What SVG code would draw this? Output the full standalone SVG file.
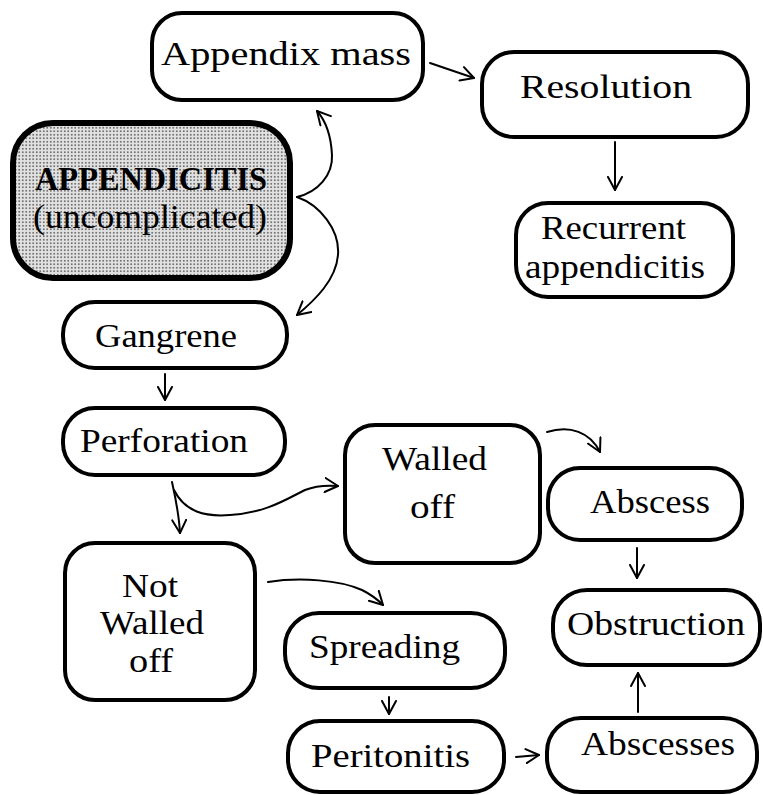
<svg xmlns="http://www.w3.org/2000/svg" width="763" height="795" viewBox="0 0 763 795">
<defs>
<style>
.box{fill:#fff;stroke:#000;stroke-width:4}
.main{stroke:#000;stroke-width:6}
.t{font-family:"Liberation Serif","Times New Roman",serif;font-size:34px;fill:#000}
.b{font-weight:bold}
.c{fill:none;stroke:#000;stroke-width:2;stroke-linecap:round;stroke-linejoin:round}
</style>
<pattern id="stip" width="3.5" height="3.5" patternUnits="userSpaceOnUse">
<rect width="3.5" height="3.5" fill="#e2e2e2"/>
<circle cx="1.75" cy="1.75" r="0.9" fill="#505050"/>
</pattern>
<marker id="ah" viewBox="0 0 16 16" refX="14" refY="8" markerWidth="16" markerHeight="16" markerUnits="userSpaceOnUse" orient="auto">
<path d="M1,1 L14,8 L1,15" fill="none" stroke="#000" stroke-width="2" stroke-linecap="round" stroke-linejoin="round"/>
</marker>
</defs>
<rect width="763" height="795" fill="#fff"/>

<g id="connectors">
<path class="c" marker-end="url(#ah)" d="M430,63 L474,78"/>
<path class="c" marker-end="url(#ah)" d="M615,142 L615,190"/>
<path class="c" marker-end="url(#ah)" d="M297,197 C318,192 333,175 332,155 C331,135 325,120 317,111"/>
<path class="c" marker-end="url(#ah)" d="M297,197 C320,205 340,230 338,255 C336,280 315,300 297,315"/>
<path class="c" marker-end="url(#ah)" d="M165,374 L165,400"/>
<path class="c" marker-end="url(#ah)" d="M172,482 C176,500 179,515 180,533"/>
<path class="c" marker-end="url(#ah)" d="M174,490 C185,512 205,517 230,515 C265,513 285,500 305,490 C315,486 325,485 338,486"/>
<path class="c" marker-end="url(#ah)" d="M547,432 C570,425 590,432 600,452"/>
<path class="c" marker-end="url(#ah)" d="M268,582 C300,577 340,580 362,590 C372,595 378,600 383,605"/>
<path class="c" marker-end="url(#ah)" d="M637,548 L637,578"/>
<path class="c" marker-end="url(#ah)" d="M389,697 L389,714"/>
<path class="c" marker-end="url(#ah)" d="M516,757 L539,755"/>
<path class="c" marker-end="url(#ah)" d="M638,712 L638,673"/>
</g>

<g id="appendix-mass">
<rect class="box" x="152" y="13" width="271" height="87" rx="30"/>
<text class="t" x="161" y="65" textLength="250" lengthAdjust="spacingAndGlyphs">Appendix mass</text>
</g>
<g id="resolution">
<rect class="box" x="482" y="52" width="266" height="85" rx="32"/>
<text class="t" x="520" y="98" textLength="172" lengthAdjust="spacingAndGlyphs">Resolution</text>
</g>
<g id="recurrent">
<rect class="box" x="516" y="203" width="217" height="94" rx="32"/>
<text class="t" x="541" y="239" textLength="145" lengthAdjust="spacingAndGlyphs">Recurrent</text>
<text class="t" x="525" y="278" textLength="180" lengthAdjust="spacingAndGlyphs">appendicitis</text>
</g>
<g id="appendicitis">
<rect class="main" fill="url(#stip)" x="13" y="123" width="277" height="155" rx="40"/>
<text class="t b" x="35" y="190" font-size="33" textLength="232" lengthAdjust="spacingAndGlyphs">APPENDICITIS</text>
<text class="t" x="33" y="228" font-size="33" textLength="234" lengthAdjust="spacingAndGlyphs">(uncomplicated)</text>
</g>
<g id="gangrene">
<rect class="box" x="63" y="302" width="224" height="66" rx="32"/>
<text class="t" x="95" y="347" textLength="142" lengthAdjust="spacingAndGlyphs">Gangrene</text>
</g>
<g id="perforation">
<rect class="box" x="63" y="408" width="222" height="67" rx="32"/>
<text class="t" x="80" y="452" textLength="168" lengthAdjust="spacingAndGlyphs">Perforation</text>
</g>
<g id="walled-off">
<rect class="box" x="345" y="425" width="195" height="138" rx="30"/>
<text class="t" x="382" y="470" textLength="105" lengthAdjust="spacingAndGlyphs">Walled</text>
<text class="t" x="410" y="518" textLength="45" lengthAdjust="spacingAndGlyphs">off</text>
</g>
<g id="abscess">
<rect class="box" x="548" y="468" width="194" height="72" rx="32"/>
<text class="t" x="590" y="513" textLength="120" lengthAdjust="spacingAndGlyphs">Abscess</text>
</g>
<g id="not-walled-off">
<rect class="box" x="65" y="543" width="190" height="157" rx="30"/>
<text class="t" x="122" y="597" textLength="56" lengthAdjust="spacingAndGlyphs">Not</text>
<text class="t" x="100" y="634" textLength="104" lengthAdjust="spacingAndGlyphs">Walled</text>
<text class="t" x="129" y="672" textLength="44" lengthAdjust="spacingAndGlyphs">off</text>
</g>
<g id="spreading">
<rect class="box" x="285" y="613" width="220" height="75" rx="34"/>
<text class="t" x="309" y="658" textLength="151" lengthAdjust="spacingAndGlyphs">Spreading</text>
</g>
<g id="peritonitis">
<rect class="box" x="288" y="721" width="216" height="71" rx="32"/>
<text class="t" x="311" y="767" textLength="159" lengthAdjust="spacingAndGlyphs">Peritonitis</text>
</g>
<g id="obstruction">
<rect class="box" x="553" y="590" width="207" height="75" rx="34"/>
<text class="t" x="567" y="635" textLength="178" lengthAdjust="spacingAndGlyphs">Obstruction</text>
</g>
<g id="abscesses">
<rect class="box" x="547" y="718" width="210" height="74" rx="34"/>
<text class="t" x="581" y="755" textLength="154" lengthAdjust="spacingAndGlyphs">Abscesses</text>
</g>
</svg>
